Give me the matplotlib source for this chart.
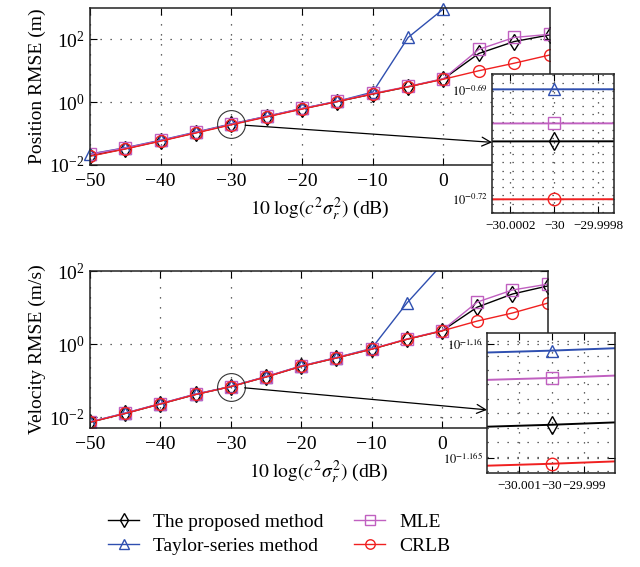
import numpy as np
import matplotlib
matplotlib.use("Agg")
import matplotlib.pyplot as plt
from matplotlib.patches import ConnectionPatch
from matplotlib.ticker import FixedLocator, FixedFormatter, NullLocator, NullFormatter

plt.rcParams['font.family'] = ['Liberation Serif', 'DejaVu Serif']
plt.rcParams['mathtext.fontset'] = 'stix'

# x axis: 10 log(c^2 sigma_r^2) in dB
snr = [-50, -45, -40, -35, -30, -25, -20, -15, -10, -5, 0, 5, 10, 15]
snr_taylor = [-50, -45, -40, -35, -30, -25, -20, -15, -10, -5, 0]

# log10 of the RMSE values
pos_proposed = [-1.71, -1.48, -1.23, -0.97, -0.7042, -0.46, -0.21, 0.02, 0.26, 0.49, 0.74, 1.55, 1.93, 2.14]
pos_taylor = [-1.65, -1.45, -1.21, -0.95, -0.690, -0.45, -0.20, 0.03, 0.32, 2.06, 2.97]
pos_mle = [-1.66, -1.46, -1.22, -0.96, -0.6993, -0.45, -0.20, 0.03, 0.28, 0.50, 0.75, 1.68, 2.06, 2.16]
pos_crlb = [-1.72, -1.49, -1.24, -0.98, -0.720, -0.47, -0.22, 0.02, 0.26, 0.49, 0.73, 1.00, 1.24, 1.50]

vel_proposed = [-2.14, -1.90, -1.64, -1.38, -1.16355, -0.90, -0.61, -0.38, -0.14, 0.13, 0.36, 1.01, 1.37, 1.59]
vel_taylor = [-2.13, -1.89, -1.63, -1.37, -1.1603, -0.89, -0.60, -0.37, -0.12, 1.12, 2.18]
vel_mle = [-2.13, -1.89, -1.63, -1.37, -1.1615, -0.89, -0.60, -0.37, -0.13, 0.14, 0.37, 1.15, 1.48, 1.64]
vel_crlb = [-2.14, -1.90, -1.64, -1.38, -1.16526, -0.90, -0.61, -0.38, -0.14, 0.13, 0.36, 0.63, 0.85, 1.12]

labels = ['The proposed method', 'Taylor-series method', 'MLE', 'CRLB']
colors = ['black', '#2f4fb0', '#c060c0', '#f02020']
markers = ['d', '^', 's', 'o']

grid_kw = dict(color='#333333', linestyle=(0, (1, 7)), linewidth=0.9)


def draw_series(ax, series, lw, ms, clip=True):
    handles = []
    for (xs, ys), lab, c, m in zip(series, labels, colors, markers):
        h, = ax.plot(xs, 10 ** np.array(ys), color=c, lw=lw, marker=m,
                     ms=ms, mfc='none', mec=c, mew=1.0, label=lab,
                     clip_on=clip if lab == 'Taylor-series method' else True)
        handles.append(h)
    return handles


def style_axes(ax, fs):
    ax.tick_params(which='both', direction='in', top=True, right=True,
                   labelsize=fs, length=5, width=0.8)
    for s in ax.spines.values():
        s.set_linewidth(1.1)
        s.set_color('#222222')


fig = plt.figure(figsize=(6.4, 5.67), dpi=100)

panels = [
    (pos_proposed, pos_taylor, pos_mle, pos_crlb, 'Position RMSE (m)', (1e-2, 1e3),
     [0.1406, 0.709, 0.718, 0.277], [0.769, 0.624, 0.191, 0.245],
     (-30.000282, -29.999727), (-0.7238, -0.6859),
     [-30.0002, -30.0, -29.9998], ['\u221230.0002', '\u221230', '\u221229.9998'],
     [-0.69, -0.72], 0.001, 0.51),
    (vel_proposed, vel_taylor, vel_mle, vel_crlb, 'Velocity RMSE (m/s)', (10 ** -2.3, 1e2),
     [0.1406, 0.245, 0.715, 0.277], [0.761, 0.166, 0.200, 0.247],
     (-30.00198, -29.99805), (-1.16566, -1.15952),
     [-30.001, -30.0, -29.999], ['\u221230.001', '\u221230', '\u221229.999'],
     [-1.16, -1.165], 0.0001, 0.45),
]

handles = None
for (p, t, m, c, ylab, ylim, rect, irect, ixlim, iylim, ixt, ixtl, iyt, minor_step, arrow_y) in panels:
    ax = fig.add_axes(rect)
    series = [(snr, p), (snr_taylor, t), (snr, m), (snr, c)]
    h = draw_series(ax, series, lw=1.0, ms=8.5, clip=(ylab != 'Position RMSE (m)'))
    if handles is None:
        handles = h
    ax.set_yscale('log')
    ax.set_xlim(-50, 15)
    ax.set_ylim(*ylim)
    ax.set_xticks([-50, -40, -30, -20, -10, 0])
    ax.set_xticklabels(['\u221250', '\u221240', '\u221230', '\u221220', '\u221210', '0'])
    ax.yaxis.set_major_locator(FixedLocator([1e-2, 1e0, 1e2]))
    ax.yaxis.set_minor_locator(NullLocator())
    ax.grid(True, **grid_kw)
    style_axes(ax, 14)
    ax.tick_params(axis='x', pad=6)
    ax.tick_params(axis='y', pad=4)
    ax.set_ylabel(ylab, fontsize=14, labelpad=2)
    ax.set_xlabel(r'$10\;\log(c^2\sigma_r^2)$ (dB)', fontsize=14, labelpad=4)

    # circle around the zoomed point
    yz = 10 ** p[4]
    ax.plot(-30, yz, 'o', ms=20, mfc='none', mec='#333333', mew=0.8, zorder=5)

    # inset
    ins = fig.add_axes(irect)
    draw_series(ins, series, lw=1.4, ms=9)
    ins.set_yscale('log')
    ins.set_xlim(*ixlim)
    ins.set_ylim(10 ** iylim[0], 10 ** iylim[1])
    ins.xaxis.set_major_locator(FixedLocator(ixt))
    ins.xaxis.set_major_formatter(FixedFormatter(ixtl))
    ins.yaxis.set_major_locator(FixedLocator([10 ** v for v in iyt]))
    ins.yaxis.set_major_formatter(FixedFormatter(['$10^{%g}$' % v for v in iyt]))
    lo, hi = 10 ** iylim[0], 10 ** iylim[1]
    minors = np.arange(np.ceil(lo / minor_step) * minor_step, hi, minor_step)
    ins.yaxis.set_minor_locator(FixedLocator(minors))
    ins.yaxis.set_minor_formatter(NullFormatter())
    ins.xaxis.set_minor_locator(NullLocator())
    ins.grid(True, which='major', **grid_kw)
    ins.grid(True, which='minor', axis='y', **grid_kw)
    style_axes(ins, 9.5)
    ins.tick_params(which='minor', length=0)
    ins.tick_params(axis='y', labelsize=9, pad=3)
    ins.tick_params(axis='x', pad=5)
    ins.set_facecolor('white')

    con = ConnectionPatch(xyA=(-30, yz), coordsA=ax.transData,
                          xyB=(0, arrow_y), coordsB=ins.transAxes,
                          arrowstyle='->', shrinkA=10, shrinkB=0,
                          mutation_scale=16, color='black', lw=0.9)
    fig.add_artist(con)

fig.legend(handles, labels,
           loc='center', bbox_to_anchor=(0.436, 0.058), ncol=2, frameon=False,
           fontsize=14, handlelength=1.6, handletextpad=0.7, columnspacing=1.6,
           labelspacing=0.3, markerscale=0.8)

fig.savefig('out.png', dpi=100)
